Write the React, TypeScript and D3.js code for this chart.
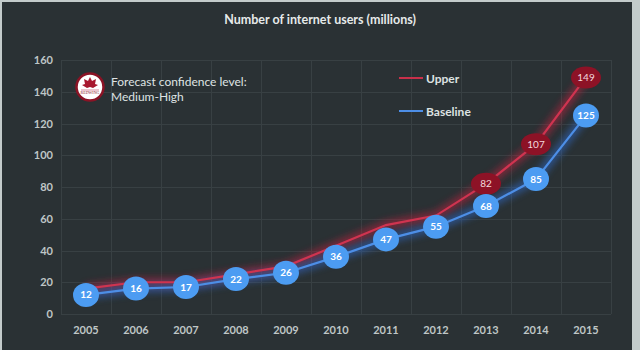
import React, { useEffect, useRef } from 'react';
import * as d3 from 'd3';

const years = ['2005', '2006', '2007', '2008', '2009', '2010', '2011', '2012', '2013', '2014', '2015'];
const baseline = [12, 16, 17, 22, 26, 36, 47, 55, 68, 85, 125];
const upper = [16, 20, 20, 25, 30, 43, 56, 62, 82, 107, 149];
const upperLabelled = ['2013', '2014', '2015'];
const yTicks = [0, 20, 40, 60, 80, 100, 120, 140, 160];

const W = 640;
const H = 350;

const App: React.FC = () => {
  const svgRef = useRef<SVGSVGElement>(null);

  useEffect(() => {
    if (!svgRef.current) return;
    const svg = d3.select(svgRef.current);
    svg.selectAll('*').remove();

    const font = 'Lato, "Open Sans", sans-serif';

    // frame
    svg.append('rect').attr('width', W).attr('height', H).attr('fill', '#c3cbcb');
    svg.append('rect').attr('x', 2).attr('y', 2).attr('width', 630).attr('height', H).attr('fill', '#2a3134');

    const defs = svg.append('defs');
    const glow = (id: string) => {
      const f = defs.append('filter').attr('id', id)
        .attr('x', '-20%').attr('y', '-20%').attr('width', '140%').attr('height', '140%');
      f.append('feGaussianBlur').attr('stdDeviation', 3.5);
    };
    glow('glowRed');
    glow('glowBlue');

    const x = d3.scaleBand<string>().domain(years).range([61, 611]);
    const y = d3.scaleLinear().domain([0, 160]).range([314, 60]);
    const cx = (d: string) => (x(d) || 0) + x.bandwidth() / 2;

    // grid
    const grid = svg.append('g').attr('stroke', '#384043').attr('stroke-width', 1);
    grid.selectAll('line.h')
      .data(yTicks)
      .join('line')
      .attr('class', 'h')
      .attr('x1', 61).attr('x2', 611)
      .attr('y1', d => Math.round(y(d)) + 0.5)
      .attr('y2', d => Math.round(y(d)) + 0.5);
    grid.selectAll('line.v')
      .data([...years.map(d => x(d) || 0), 611])
      .join('line')
      .attr('class', 'v')
      .attr('x1', d => Math.round(d) + 0.5).attr('x2', d => Math.round(d) + 0.5)
      .attr('y1', y(160)).attr('y2', y(0));

    // axes labels
    svg.append('g')
      .selectAll('text')
      .data(yTicks)
      .join('text')
      .attr('x', 53)
      .attr('y', d => y(d) + 4)
      .attr('text-anchor', 'end')
      .attr('font-family', font)
      .attr('font-weight', 700)
      .attr('font-size', 11)
      .attr('fill', '#bfc6c6')
      .text(d => d);

    svg.append('g')
      .selectAll('text')
      .data(years)
      .join('text')
      .attr('x', d => cx(d))
      .attr('y', 334)
      .attr('text-anchor', 'middle')
      .attr('font-family', font)
      .attr('font-weight', 700)
      .attr('font-size', 11)
      .attr('fill', '#bfc6c6')
      .text(d => d);

    // title
    svg.append('text')
      .attr('x', 320).attr('y', 24)
      .attr('text-anchor', 'middle')
      .attr('font-family', font)
      .attr('font-weight', 700)
      .attr('font-size', 12.5)
      .attr('fill', '#e6eaea')
      .text('Number of internet users (millions)');

    // lines
    const line = d3.line<number>()
      .x((d, i) => cx(years[i]))
      .y(d => y(d));

    svg.append('path').datum(upper)
      .attr('d', line).attr('fill', 'none')
      .attr('stroke', '#b3243d').attr('stroke-width', 9).attr('opacity', 0.6)
      .attr('filter', 'url(#glowRed)');
    svg.append('path').datum(baseline)
      .attr('d', line).attr('fill', 'none')
      .attr('stroke', '#2f66c0').attr('stroke-width', 9).attr('opacity', 0.6)
      .attr('filter', 'url(#glowBlue)');
    svg.append('path').datum(upper)
      .attr('d', line).attr('fill', 'none')
      .attr('stroke', '#cf3450').attr('stroke-width', 2.2);
    svg.append('path').datum(baseline)
      .attr('d', line).attr('fill', 'none')
      .attr('stroke', '#4d8ee6').attr('stroke-width', 2.2);

    // upper markers
    const upPts = years
      .map((yr, i) => ({ yr, v: upper[i] }))
      .filter(d => upperLabelled.includes(d.yr));
    const upG = svg.append('g').selectAll('g').data(upPts).join('g')
      .attr('transform', d => `translate(${cx(d.yr)},${y(d.v)})`);
    upG.append('ellipse').attr('rx', 15).attr('ry', 11).attr('fill', '#8d1226');
    upG.append('text')
      .attr('y', 3.5)
      .attr('text-anchor', 'middle')
      .attr('font-family', font)
      .attr('font-size', 10)
      .attr('fill', '#f3d9de')
      .text(d => d.v);

    // baseline markers
    const basePts = years.map((yr, i) => ({ yr, v: baseline[i] }));
    const bG = svg.append('g').selectAll('g').data(basePts).join('g')
      .attr('transform', d => `translate(${cx(d.yr)},${y(d.v)})`);
    bG.append('ellipse').attr('rx', 13).attr('ry', 12).attr('fill', '#4c9cf2');
    bG.append('text')
      .attr('y', 3.5)
      .attr('text-anchor', 'middle')
      .attr('font-family', font)
      .attr('font-weight', 700)
      .attr('font-size', 10)
      .attr('fill', '#ffffff')
      .text(d => d.v);

    // legend
    const legend = [
      { name: 'Upper', color: '#c8304a', y: 78 },
      { name: 'Baseline', color: '#4d8ee6', y: 111 },
    ];
    const lg = svg.append('g').selectAll('g').data(legend).join('g');
    lg.append('line')
      .attr('x1', 399).attr('x2', 423)
      .attr('y1', d => d.y).attr('y2', d => d.y)
      .attr('stroke', d => d.color).attr('stroke-width', 2);
    lg.append('text')
      .attr('x', 426).attr('y', d => d.y + 4.5)
      .attr('font-family', font)
      .attr('font-weight', 700)
      .attr('font-size', 12)
      .attr('fill', '#dde2e2')
      .text(d => d.name);

    // logo + confidence note
    const logo = svg.append('g').attr('transform', 'translate(90,87)');
    logo.append('circle').attr('r', 13.5).attr('fill', '#ffffff')
      .attr('stroke', '#8a1325').attr('stroke-width', 2.5);
    logo.append('path')
      .attr('d', 'M0,-10 L2,-6 L6,-8 L5,-3 L8,-2 L3,1 L0,0 L-3,1 L-8,-2 L-5,-3 L-6,-8 L-2,-6 Z')
      .attr('fill', '#a8182f');
    logo.append('line').attr('x1', -9).attr('x2', 9).attr('y1', 3).attr('y2', 3)
      .attr('stroke', '#c04060').attr('stroke-width', 0.6);
    logo.append('text')
      .attr('y', 7).attr('text-anchor', 'middle')
      .attr('font-family', 'serif').attr('font-size', 4).attr('fill', '#8a1325')
      .text('REDWING');

    const note = svg.append('text')
      .attr('font-family', font)
      .attr('font-size', 12)
      .attr('fill', '#dfe3e3');
    note.append('tspan').attr('x', 111).attr('y', 86).text('Forecast confidence level:');
    note.append('tspan').attr('x', 111).attr('y', 101).text('Medium-High');
  }, []);

  return (
    <div>
      <style>{'body{margin:0}'}</style>
      <svg ref={svgRef} width={W} height={H} style={{ display: 'block' }} />
    </div>
  );
};

export default App;
